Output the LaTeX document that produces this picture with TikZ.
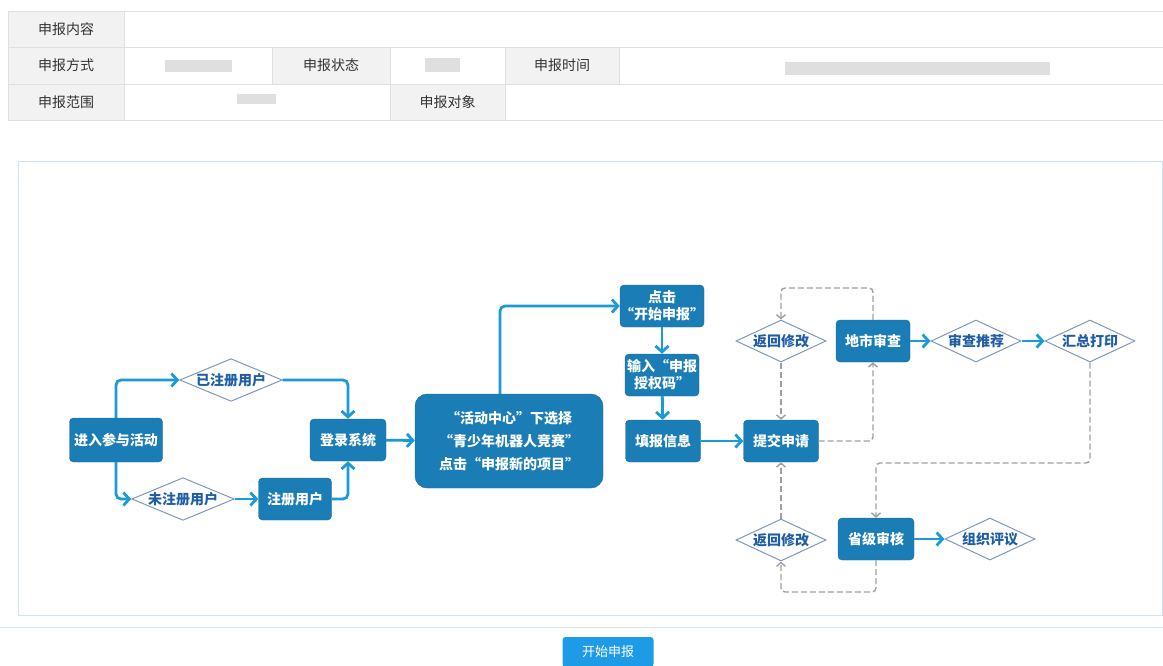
\documentclass[tikz,border=0pt]{standalone}
\usepackage{fontspec}
\setmainfont{Noto Sans CJK SC}
\usetikzlibrary{shapes.geometric,arrows.meta}

\definecolor{boxblue}{HTML}{1B7DB6}
\definecolor{linkblue}{HTML}{1A9AD6}
\definecolor{diaborder}{HTML}{7E98BC}
\definecolor{diatext}{HTML}{1F5EA6}
\definecolor{cellgray}{HTML}{F2F2F2}
\definecolor{cellline}{HTML}{E0E0E0}
\definecolor{framecol}{HTML}{D0E4EF}
\definecolor{btnblue}{HTML}{1E9BE6}

\begin{document}
\begin{tikzpicture}[x=1pt,y=-1pt,
    stepbox/.style={rectangle,rounded corners=4pt,fill=boxblue,draw=boxblue!85!black,
        text=white,font=\fontsize{14}{17}\selectfont\bfseries,align=center,
        inner sep=0pt,minimum height=42pt},
    choice/.style={diamond,aspect=2.4,draw=diaborder,line width=1pt,fill=white,text=diatext,
        font=\fontsize{14}{17}\selectfont\bfseries,inner sep=0pt,
        minimum width=92pt,minimum height=42pt},
    flow/.style={draw=linkblue,line width=2.8pt,rounded corners=5pt,
        -{Straight Barb[length=6pt,width=13pt]}},
    back/.style={draw=gray!75,line width=1.4pt,dash pattern=on 6pt off 3pt,
        rounded corners=4pt,-{Straight Barb[length=4pt,width=9pt]}},
    cell/.style={rectangle,fill=cellgray,text=black!80,
        font=\fontsize{14}{16}\selectfont,inner sep=0pt,minimum height=36pt},
    blur/.style={fill=gray!25}]

    \useasboundingbox (0,0) rectangle (1163,665);

    % Table
    \node[cell,minimum width=116pt] (content) at (66,29) {申报内容};
    \node[cell,minimum width=116pt] (mode) at (66,65.5) {申报方式};
    \node[cell,minimum width=116pt] (range) at (66,102) {申报范围};
    \node[cell,minimum width=118pt] (state) at (331,65.5) {申报状态};
    \node[cell,minimum width=114pt] (time) at (562,65.5) {申报时间};
    \node[cell,minimum width=115pt] (target) at (447.5,102) {申报对象};
    \foreach \y in {11,47,84,120}
        \draw[cellline] (8,\y) -- (1163,\y);
    \draw[cellline] (8,11) -- (8,120) (124,11) -- (124,120)
        (272,47) -- (272,84) (390,47) -- (390,120)
        (505,47) -- (505,120) (619,47) -- (619,84);
    \fill[blur] (165,60) rectangle (232,72);
    \fill[blur] (425,58) rectangle (460,72);
    \fill[blur] (785,62) rectangle (1050,75);
    \fill[blur] (237,94) rectangle (276,104);

    % Frame
    \draw[framecol,line width=1pt] (18,161) rectangle (1162,615);
    \draw[framecol,line width=1pt] (0,627) -- (1163,627);

    % Define vertices
    \node[stepbox,minimum width=93pt,minimum height=44pt] (enter) at (116,440) {进入参与活动};
    \node[choice,minimum width=100pt] (reg) at (231,380) {已注册用户};
    \node[choice,minimum width=98pt] (unreg) at (183,499) {未注册用户};
    \node[stepbox,minimum width=73pt] (signup) at (295,499) {注册用户};
    \node[stepbox,minimum width=76pt] (login) at (348,440) {登录系统};
    \node[stepbox,minimum width=188pt,minimum height=94pt,rounded corners=12pt,
        font=\fontsize{14}{23}\selectfont\bfseries] (select) at (509,441)
        {“活动中心”下选择\\“青少年机器人竞赛”\\点击“申报新的项目”};
    \node[stepbox,minimum width=74pt] (start) at (662,306) {点击\\“开始申报”};
    \node[stepbox,minimum width=74pt] (code) at (662,375) {输入“申报\\授权码”};
    \node[stepbox,minimum width=75pt] (fill) at (663,441) {填报信息};
    \node[stepbox,minimum width=75pt] (submit) at (781,441) {提交申请};
    \node[choice,minimum width=90pt] (redo1) at (781,341) {返回修改};
    \node[stepbox,minimum width=74pt] (city) at (873,341) {地市审查};
    \node[choice,minimum width=90pt] (recommend) at (976,341) {审查推荐};
    \node[choice,minimum width=90pt] (print) at (1090,341) {汇总打印};
    \node[choice,minimum width=90pt] (redo2) at (781,540) {返回修改};
    \node[stepbox,minimum width=76pt] (prov) at (876,539) {省级审核};
    \node[choice,minimum width=90pt] (review) at (990,539) {组织评议};

    \coordinate (cityturn) at (873,288);
    \coordinate (printturn) at (1090,463);
    \coordinate (provturn) at (876,592);

    % Define edges
    \draw[flow] (enter.north) |- (reg.west);
    \draw[flow] (reg.east) -| (login.north);
    \draw[flow] (enter.south) |- (unreg.west);
    \draw[flow] (unreg.east) -- (signup.west);
    \draw[flow] (signup.east) -| (login.south);
    \draw[flow] (login) -- (select);
    \draw[flow] ([xshift=-9pt]select.north) |- (start.west);
    \draw[flow] (start) -- (code);
    \draw[flow] (code) -- (fill);
    \draw[flow] (fill) -- (submit);
    \draw[flow] (city) -- (recommend);
    \draw[flow] (recommend) -- (print);
    \draw[flow] (prov) -- (review);

    \draw[back] (city.north) -- (cityturn) -| (redo1.north);
    \draw[back] (redo1.south) -- (submit.north);
    \draw[back] (submit.east) -| (city.south);
    \draw[back] (print.south) -- (printturn) -| (prov.north);
    \draw[back] (prov.south) -- (provturn) -| (redo2.south);
    \draw[back] (redo2.north) -- (submit.south);

    % Button
    \node[fill=btnblue,rounded corners=3pt,minimum width=91pt,minimum height=30pt,
        text=white,font=\fontsize{13}{15}\selectfont] (button) at (608,652) {开始申报};
\end{tikzpicture}
\end{document}
